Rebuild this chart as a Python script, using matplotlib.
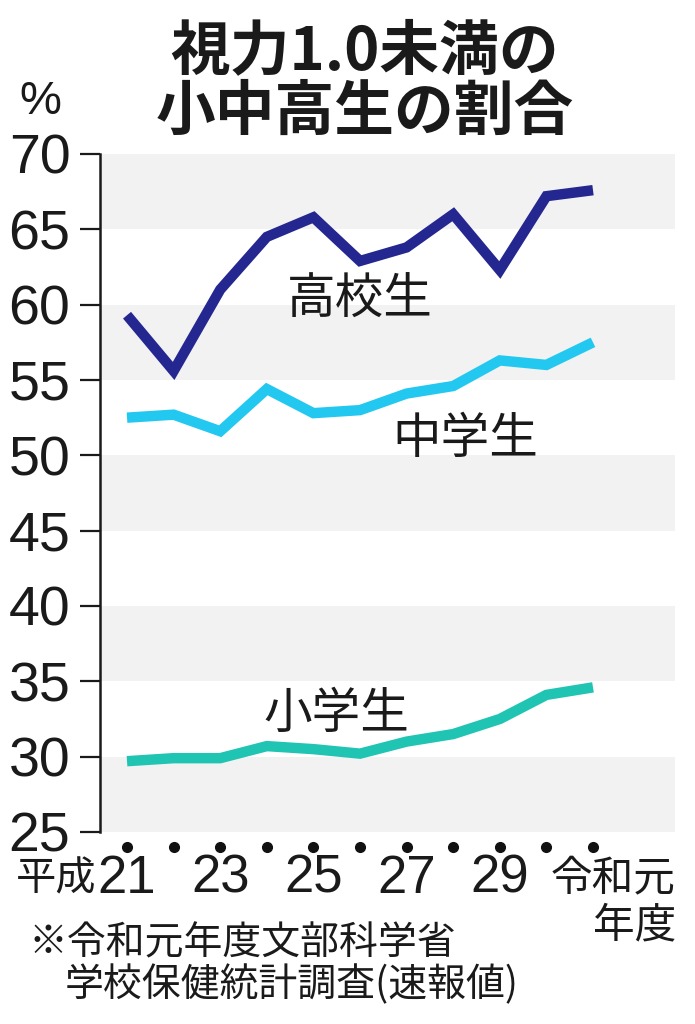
import matplotlib.pyplot as plt

plt.rcParams["font.family"] = ["Noto Sans CJK JP", "DejaVu Sans"]

# 平成21 .. 令和元 (11 school years)
years = ["21", "22", "23", "24", "25", "26", "27", "28", "29", "30", "令和元"]
high_school = [59.3, 55.6, 61.0, 64.5, 65.8, 62.9, 63.8, 66.0, 62.3, 67.2, 67.6]
junior_high = [52.5, 52.7, 51.6, 54.4, 52.8, 53.0, 54.1, 54.6, 56.3, 56.0, 57.5]
elementary = [29.7, 29.9, 29.9, 30.7, 30.5, 30.2, 31.0, 31.5, 32.5, 34.1, 34.6]
yticks = [25, 30, 35, 40, 45, 50, 55, 60, 65, 70]

num_font = ["Liberation Sans", "DejaVu Sans"]
x = list(range(len(years)))

fig = plt.figure(figsize=(6.95, 10.24), dpi=100)
ax = fig.add_axes([100 / 695, 192 / 1024, 575 / 695, 678 / 1024])

# alternating grey bands
for lo in yticks[:-1:2]:
    ax.axhspan(lo, lo + 5, color="#f2f2f2", lw=0, zorder=0)

ax.plot(x, high_school, color="#23278f", lw=7.5, solid_capstyle="butt", solid_joinstyle="miter", zorder=3)
ax.plot(x, junior_high, color="#22c8f0", lw=7.5, solid_capstyle="butt", solid_joinstyle="miter", zorder=3)
ax.plot(x, elementary, color="#1fc4b2", lw=7.5, solid_capstyle="butt", solid_joinstyle="miter", zorder=3)

# dots under every year
ax.plot(x, [24.0] * len(x), "o", color="#111111", ms=7, clip_on=False)

ax.set_xlim(-0.58, 11.76)
ax.set_ylim(25, 70)
ax.set_yticks(yticks)
ax.set_yticklabels([str(v) for v in yticks], fontsize=40, family=num_font, color="#1a1a1a")
ax.tick_params(axis="y", length=14.4, width=1.6, pad=7, color="#1a1a1a")
ax.set_xticks([])
for s in ["top", "right", "bottom"]:
    ax.spines[s].set_visible(False)
ax.spines["left"].set_linewidth(1.8)
ax.spines["left"].set_color("#1a1a1a")

# series labels
ax.text(5.0, 60.3, "高校生", fontsize=35, ha="center", va="center", color="#1a1a1a")
ax.text(7.27, 51.1, "中学生", fontsize=35, ha="center", va="center", color="#1a1a1a")
ax.text(4.49, 32.8, "小学生", fontsize=35, ha="center", va="center", color="#1a1a1a")

# x labels
for i in range(0, 10, 2):
    ax.text(x[i], 21.9, years[i], fontsize=38, family=num_font, ha="center", va="center",
            color="#1a1a1a", clip_on=False)
ax.text(-0.66, 21.9, "平成", fontsize=29, ha="right", va="center", color="#1a1a1a", clip_on=False)
ax.text(11.78, 21.9, years[-1], fontsize=30, ha="right", va="center", color="#1a1a1a", clip_on=False)
ax.text(11.78, 18.8, "年度", fontsize=30, ha="right", va="center", color="#1a1a1a", clip_on=False)

# title and unit
fig.text(365 / 695, 1 - 52 / 1024, "視力1.0未満の", fontsize=43, fontweight="bold",
         ha="center", va="center", color="#1a1a1a")
fig.text(365 / 695, 1 - 113 / 1024, "小中高生の割合", fontsize=43, fontweight="bold",
         ha="center", va="center", color="#1a1a1a")
fig.text(40 / 695, 1 - 102 / 1024, "%", fontsize=34, family=num_font, ha="center", va="center",
         color="#1a1a1a")

# source note
fig.text(28 / 695, 1 - 943 / 1024, "※令和元年度文部科学省", fontsize=28, ha="left", va="center",
         color="#1a1a1a")
fig.text(65 / 695, 1 - 985 / 1024, "学校保健統計調査(速報値)", fontsize=28, ha="left", va="center",
         color="#1a1a1a")

fig.savefig("out.png", dpi=100)
